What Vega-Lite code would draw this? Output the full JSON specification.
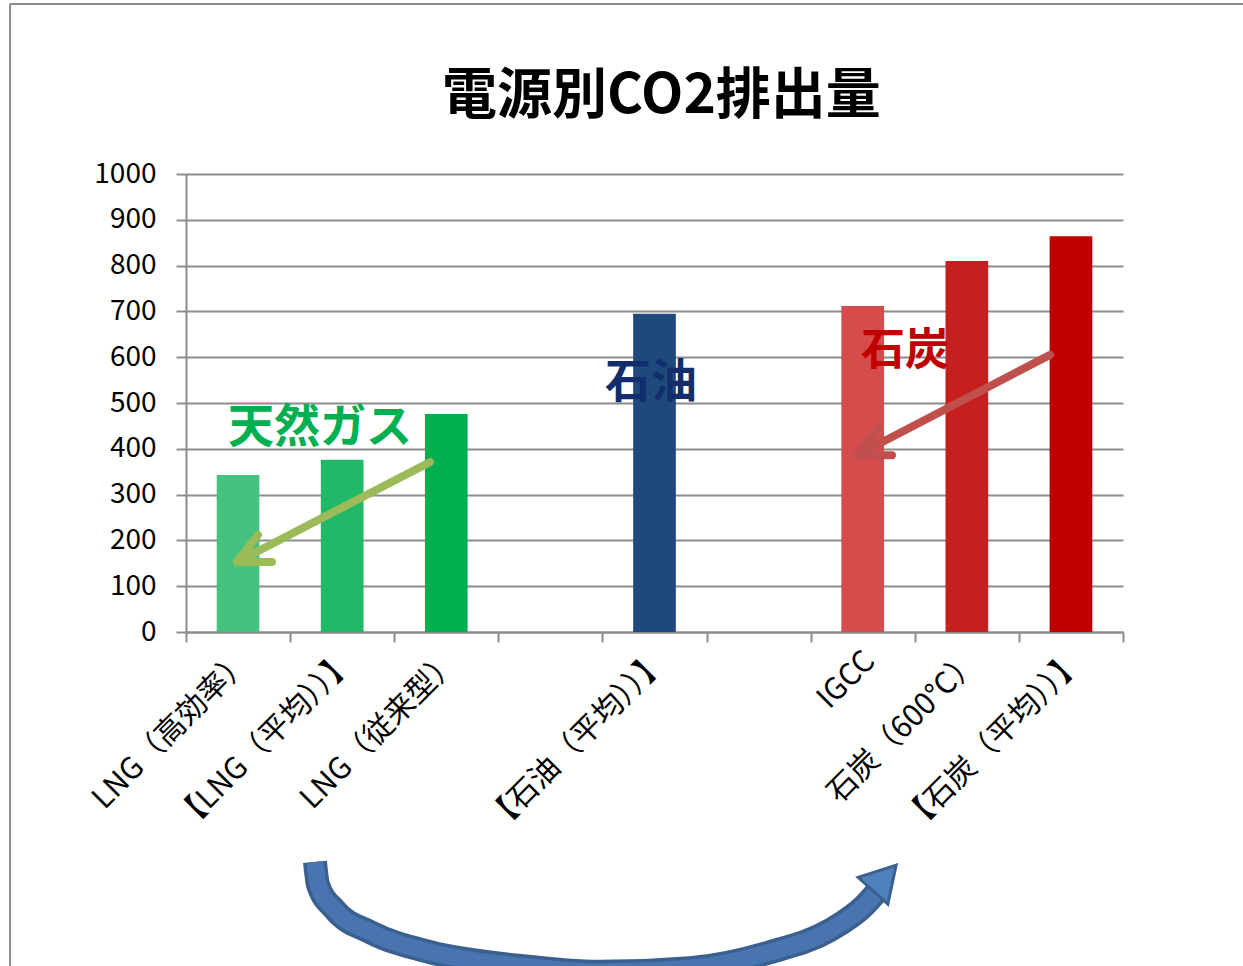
{
  "$schema": "https://vega.github.io/schema/vega-lite/v6.json",
  "width": 937,
  "height": 458,
  "autosize": {"type": "none"},
  "padding": {"left": 186, "top": 174, "right": 120, "bottom": 334},
  "background": "white",
  "config": {"view": {"stroke": null}, "font": "Noto Sans CJK JP"},
  "datasets": {
    "bars": [
      {"cat": "LNG（高効率）", "v": 343},
      {"cat": "【LNG（平均））】", "v": 376},
      {"cat": "LNG（従来型）", "v": 476},
      {"cat": "【石油（平均））】", "v": 695},
      {"cat": "IGCC", "v": 712},
      {"cat": "石炭（600℃）", "v": 810},
      {"cat": "【石炭（平均））】", "v": 864}
    ],
    "heading": [{"label": "電源別CO2排出量", "px": 4.567, "v": 1134}],
    "notes": [
      {"label": "天然ガス", "px": 1.287, "v": 445, "grp": "gas"},
      {"label": "石油", "px": 4.467, "v": 544, "grp": "oil"},
      {"label": "石炭", "px": 6.906, "v": 611, "grp": "coal"}
    ],
    "arrows": [
      {"grp": "gas", "px": 2.344, "v": 371, "px2": 0.49, "v2": 153},
      {"grp": "gas", "px": 0.49, "v": 153, "px2": 0.692, "v2": 212},
      {"grp": "gas", "px": 0.49, "v": 153, "px2": 0.826, "v2": 153},
      {"grp": "coal", "px": 8.299, "v": 605, "px2": 6.445, "v2": 386},
      {"grp": "coal", "px": 6.445, "v": 386, "px2": 6.647, "v2": 445},
      {"grp": "coal", "px": 6.445, "v": 386, "px2": 6.781, "v2": 386}
    ],
    "curve": [
      {"i": 1, "px": 1.239, "v": -502},
      {"i": 2, "px": 1.268, "v": -552},
      {"i": 3, "px": 1.431, "v": -607},
      {"i": 4, "px": 1.767, "v": -655},
      {"i": 5, "px": 2.344, "v": -699},
      {"i": 6, "px": 3.208, "v": -729},
      {"i": 7, "px": 3.977, "v": -742},
      {"i": 8, "px": 4.841, "v": -734},
      {"i": 9, "px": 5.609, "v": -699},
      {"i": 10, "px": 6.186, "v": -651},
      {"i": 11, "px": 6.522, "v": -596},
      {"i": 12, "px": 6.666, "v": -559}
    ],
    "head": [{"px": 6.71, "v": -537}],
    "frame": [
      {"px": -1.69, "v": 1371, "px2": 10.3, "v2": 1371},
      {"px": -1.69, "v": 1371, "px2": -1.69, "v2": -745}
    ]
  },
  "layer": [
    {
      "data": {"name": "bars"},
      "mark": {"type": "bar", "width": {"band": 0.41}},
      "encoding": {
        "x": {
          "field": "cat", "type": "nominal", "sort": null,
          "scale": {"domain": ["LNG（高効率）", "【LNG（平均））】", "LNG（従来型）", " ", "【石油（平均））】", "  ", "IGCC", "石炭（600℃）", "【石炭（平均））】"], "paddingInner": 0, "paddingOuter": 0},
          "axis": {"title": null, "labelAngle": -45, "labelAlign": "right", "labelBaseline": "middle", "labelFontSize": 30, "labelColor": "#000000", "labelPadding": 14, "labelOffset": 7, "labelLimit": 0, "tickBand": "extent", "tickSize": 10, "tickColor": "#8c8c8c", "tickWidth": 2, "domainColor": "#8c8c8c", "domainWidth": 2, "grid": false, "labelFont": "Noto Sans CJK JP"}
        },
        "y": {
          "field": "v", "type": "quantitative",
          "scale": {"domain": [0, 1000], "nice": false},
          "axis": {"title": null, "format": "d", "values": [0, 100, 200, 300, 400, 500, 600, 700, 800, 900, 1000], "labelFontSize": 28, "labelColor": "#000000", "labelPadding": 20, "tickSize": 10, "tickColor": "#8c8c8c", "tickWidth": 2, "domainColor": "#8c8c8c", "domainWidth": 2, "gridColor": "#8c8c8c", "gridWidth": 2, "labelFont": "Noto Sans CJK JP"}
        },
        "fill": {
          "field": "cat", "type": "nominal", "legend": null,
          "scale": {"domain": ["LNG（高効率）", "【LNG（平均））】", "LNG（従来型）", "【石油（平均））】", "IGCC", "石炭（600℃）", "【石炭（平均））】"], "range": ["#45C27E", "#22B867", "#00B050", "#1F497D", "#D64C4C", "#C71E1E", "#C00000"]}
        }
      }
    },
    {
      "data": {"name": "heading"},
      "mark": {"type": "text", "fontSize": 55, "fontWeight": "bold", "color": "#000000", "baseline": "alphabetic", "align": "center", "font": "Noto Sans CJK JP"},
      "encoding": {
        "x": {"field": "px", "type": "quantitative", "scale": {"domain": [0, 9], "nice": false, "zero": false}, "axis": null},
        "y": {"field": "v", "type": "quantitative", "scale": {"domain": [0, 1000], "nice": false}, "axis": null},
        "text": {"field": "label"}
      }
    },
    {
      "data": {"name": "notes"},
      "transform": [{"filter": "datum.grp == 'gas'"}],
      "mark": {"type": "text", "fontSize": 46, "fontWeight": "bold", "color": "#00B050", "font": "Noto Sans CJK JP"},
      "encoding": {
        "x": {"field": "px", "type": "quantitative", "scale": {"domain": [0, 9], "nice": false, "zero": false}, "axis": null},
        "y": {"field": "v", "type": "quantitative", "scale": {"domain": [0, 1000], "nice": false}, "axis": null},
        "text": {"field": "label"}
      }
    },
    {
      "data": {"name": "notes"},
      "transform": [{"filter": "datum.grp == 'oil'"}],
      "mark": {"type": "text", "fontSize": 46, "fontWeight": "bold", "color": "#112D6B", "font": "Noto Sans CJK JP"},
      "encoding": {
        "x": {"field": "px", "type": "quantitative", "scale": {"domain": [0, 9], "nice": false, "zero": false}, "axis": null},
        "y": {"field": "v", "type": "quantitative", "scale": {"domain": [0, 1000], "nice": false}, "axis": null},
        "text": {"field": "label"}
      }
    },
    {
      "data": {"name": "notes"},
      "transform": [{"filter": "datum.grp == 'coal'"}],
      "mark": {"type": "text", "fontSize": 44, "fontWeight": "bold", "color": "#C00000", "font": "Noto Sans CJK JP"},
      "encoding": {
        "x": {"field": "px", "type": "quantitative", "scale": {"domain": [0, 9], "nice": false, "zero": false}, "axis": null},
        "y": {"field": "v", "type": "quantitative", "scale": {"domain": [0, 1000], "nice": false}, "axis": null},
        "text": {"field": "label"}
      }
    },
    {
      "data": {"name": "arrows"},
      "transform": [{"filter": "datum.grp == 'gas'"}],
      "mark": {"type": "rule", "strokeWidth": 8, "strokeCap": "round", "color": "#9BBB59"},
      "encoding": {
        "x": {"field": "px", "type": "quantitative", "scale": {"domain": [0, 9], "nice": false, "zero": false}, "axis": null},
        "x2": {"field": "px2"},
        "y": {"field": "v", "type": "quantitative", "scale": {"domain": [0, 1000], "nice": false}, "axis": null},
        "y2": {"field": "v2"}
      }
    },
    {
      "data": {"name": "arrows"},
      "transform": [{"filter": "datum.grp == 'coal'"}],
      "mark": {"type": "rule", "strokeWidth": 8, "strokeCap": "round", "color": "#C0504D"},
      "encoding": {
        "x": {"field": "px", "type": "quantitative", "scale": {"domain": [0, 9], "nice": false, "zero": false}, "axis": null},
        "x2": {"field": "px2"},
        "y": {"field": "v", "type": "quantitative", "scale": {"domain": [0, 1000], "nice": false}, "axis": null},
        "y2": {"field": "v2"}
      }
    },
    {
      "data": {"name": "curve"},
      "mark": {"type": "line", "strokeWidth": 24, "color": "#3B6090", "interpolate": "monotone", "strokeCap": "butt", "clip": false},
      "encoding": {
        "x": {"field": "px", "type": "quantitative", "scale": {"domain": [0, 9], "nice": false, "zero": false}, "axis": null},
        "y": {"field": "v", "type": "quantitative", "scale": {"domain": [0, 1000], "nice": false}, "axis": null},
        "order": {"field": "i"}
      }
    },
    {
      "data": {"name": "curve"},
      "mark": {"type": "line", "strokeWidth": 17, "color": "#4874B0", "interpolate": "monotone", "strokeCap": "butt", "clip": false},
      "encoding": {
        "x": {"field": "px", "type": "quantitative", "scale": {"domain": [0, 9], "nice": false, "zero": false}, "axis": null},
        "y": {"field": "v", "type": "quantitative", "scale": {"domain": [0, 1000], "nice": false}, "axis": null},
        "order": {"field": "i"}
      }
    },
    {
      "data": {"name": "head"},
      "mark": {"type": "point", "shape": "triangle-up", "size": 1600, "angle": 42, "filled": true, "fill": "#4F81BD", "stroke": "#3B6090", "strokeWidth": 3, "opacity": 1},
      "encoding": {
        "x": {"field": "px", "type": "quantitative", "scale": {"domain": [0, 9], "nice": false, "zero": false}, "axis": null},
        "y": {"field": "v", "type": "quantitative", "scale": {"domain": [0, 1000], "nice": false}, "axis": null}
      }
    },
    {
      "data": {"name": "frame"},
      "mark": {"type": "rule", "strokeWidth": 2, "color": "#8c8c8c"},
      "encoding": {
        "x": {"field": "px", "type": "quantitative", "scale": {"domain": [0, 9], "nice": false, "zero": false}, "axis": null},
        "x2": {"field": "px2"},
        "y": {"field": "v", "type": "quantitative", "scale": {"domain": [0, 1000], "nice": false}, "axis": null},
        "y2": {"field": "v2"}
      }
    }
  ],
  "resolve": {"scale": {"x": "independent", "y": "independent"}}
}
